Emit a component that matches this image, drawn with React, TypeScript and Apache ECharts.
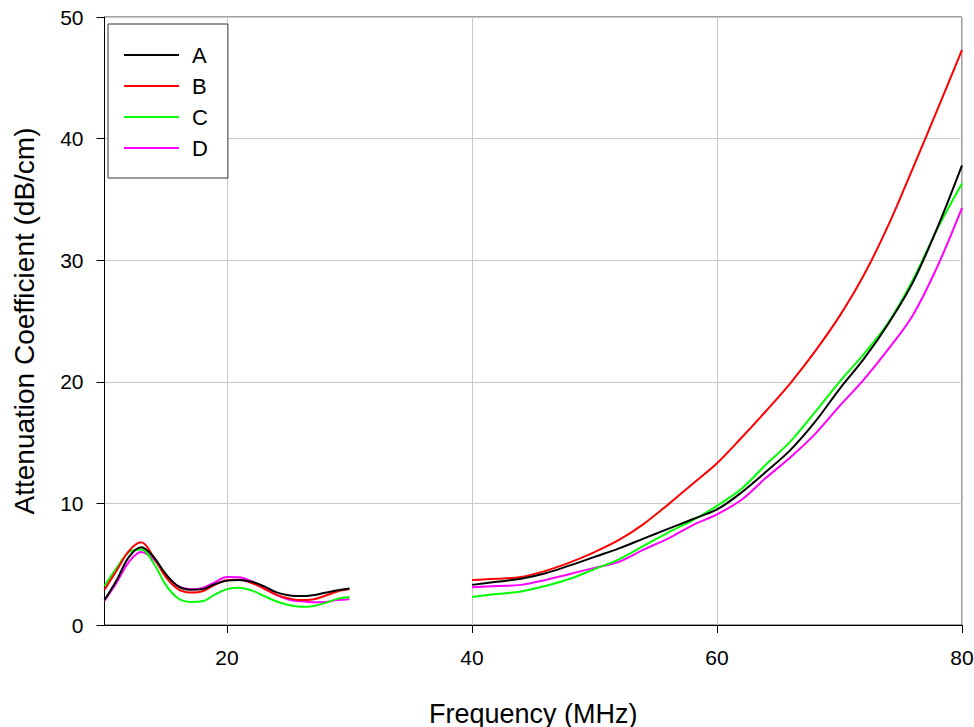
import React, { useEffect, useRef } from "react";
import * as echarts from "echarts";

// Frequency (MHz) sample points
const lowFreq = [10, 11, 12, 13, 14, 15, 16, 17, 18, 19, 20, 21, 22, 23, 24, 25, 26, 27, 28, 29, 30];
const highFreq = [40, 42, 44, 46, 48, 50, 52, 54, 56, 58, 60, 62, 64, 66, 68, 70, 72, 74, 76, 78, 80];

// Attenuation coefficient (dB/cm)
const aLow = [2.05, 3.7, 5.6, 6.4, 5.6, 4.2, 3.2, 2.9, 2.95, 3.35, 3.65, 3.7, 3.55, 3.2, 2.7, 2.45, 2.38, 2.45, 2.65, 2.85, 3.0];
const bLow = [2.9, 4.5, 6.1, 6.8, 5.6, 3.95, 2.95, 2.68, 2.78, 3.3, 3.68, 3.72, 3.45, 3.0, 2.5, 2.2, 2.05, 2.1, 2.4, 2.75, 2.95];
const cLow = [3.2, 4.7, 6.0, 6.2, 5.1, 3.3, 2.2, 1.9, 1.95, 2.5, 2.95, 3.07, 2.85, 2.4, 1.95, 1.65, 1.5, 1.55, 1.8, 2.15, 2.3];
const dLow = [2.0, 3.5, 5.2, 6.0, 5.4, 4.1, 3.2, 2.95, 3.05, 3.5, 3.95, 3.92, 3.6, 3.1, 2.5, 2.1, 1.95, 1.88, 1.9, 2.05, 2.12];

const aHigh = [3.3, 3.55, 3.8, 4.25, 4.9, 5.6, 6.3, 7.1, 7.9, 8.7, 9.5, 10.9, 12.6, 14.4, 16.7, 19.4, 21.9, 24.8, 28.2, 32.7, 37.8];
const bHigh = [3.7, 3.8, 3.95, 4.45, 5.15, 6.0, 7.0, 8.3, 9.9, 11.6, 13.3, 15.4, 17.6, 19.9, 22.5, 25.4, 28.8, 32.9, 37.6, 42.4, 47.3];
const cHigh = [2.3, 2.55, 2.75, 3.2, 3.8, 4.6, 5.4, 6.5, 7.6, 8.6, 9.8, 11.2, 13.2, 15.1, 17.5, 20.0, 22.3, 24.9, 28.4, 32.6, 36.3];
const dHigh = [3.1, 3.2, 3.3, 3.7, 4.2, 4.7, 5.2, 6.2, 7.1, 8.2, 9.1, 10.3, 12.1, 13.8, 15.7, 18.0, 20.2, 22.7, 25.5, 29.5, 34.3];

const seriesNames = ["A", "B", "C", "D"];
const seriesColors = ["#000000", "#ff0000", "#00ff00", "#ff00ff"];
const xTickValues = [20, 40, 60, 80];
const gapX = 35;

const FONT = "'Liberation Sans', Arial, sans-serif";

function buildData(low: number[], high: number[]) {
  const out: any[] = [];
  lowFreq.forEach((f, i) => out.push([f, low[i]]));
  out.push([gapX, "-"]);
  highFreq.forEach((f, i) => out.push([f, high[i]]));
  return out;
}

export default function App() {
  const ref = useRef<HTMLDivElement>(null);
  useEffect(() => {
    if (!ref.current) return;
    const chart = echarts.init(ref.current, undefined, { renderer: "svg" });
    const lows = [aLow, bLow, cLow, dLow];
    const highs = [aHigh, bHigh, cHigh, dHigh];
    chart.setOption({
      animation: false,
      backgroundColor: "#ffffff",
      grid: {
        left: 104.5,
        top: 17,
        width: 857.5,
        height: 608,
        outerBoundsMode: "none",
        containLabel: false,
        show: true,
        borderColor: "#444",
        borderWidth: 1,
        backgroundColor: "transparent",
      },
      legend: {
        orient: "vertical",
        left: 108,
        top: 24,
        padding: [20, 20, 19, 16],
        icon: "rect",
        itemWidth: 55,
        itemHeight: 2,
        itemGap: 9,
        borderColor: "#333",
        borderWidth: 1,
        backgroundColor: "#ffffff",
        textStyle: { fontSize: 22, lineHeight: 20, color: "#000", fontFamily: FONT, padding: [0, 0, 0, 8] },
        data: seriesNames,
      },
      xAxis: {
        type: "value",
        min: 10,
        max: 80,
        name: "Frequency (MHz)",
        nameLocation: "middle",
        nameGap: 75,
        nameTextStyle: { fontSize: 27, color: "#000", fontFamily: FONT },
        axisLine: { show: true, onZero: false, lineStyle: { color: "#000", width: 1 } },
        axisTick: { show: true, inside: false, length: 8, customValues: xTickValues, lineStyle: { color: "#000" } },
        axisLabel: { customValues: xTickValues, fontSize: 21, color: "#000", fontFamily: FONT, margin: 22 },
        splitLine: { show: true, lineStyle: { color: "#c8c8c8", width: 1 } },
      },
      yAxis: {
        type: "value",
        min: 0,
        max: 50,
        interval: 10,
        name: "Attenuation Coefficient (dB/cm)",
        nameLocation: "middle",
        nameGap: 66,
        nameTextStyle: { fontSize: 28, color: "#000", fontFamily: FONT },
        axisLine: { show: true, onZero: false, lineStyle: { color: "#000", width: 1 } },
        axisTick: { show: true, inside: false, length: 8, lineStyle: { color: "#000" } },
        axisLabel: { fontSize: 21, color: "#000", fontFamily: FONT, margin: 21 },
        splitLine: { show: true, lineStyle: { color: "#c8c8c8", width: 1 } },
      },
      series: seriesNames.map((name, i) => ({
        name,
        type: "line",
        data: buildData(lows[i], highs[i]),
        showSymbol: false,
        symbol: "none",
        smooth: 0.35,
        connectNulls: false,
        color: seriesColors[i],
        lineStyle: { color: seriesColors[i], width: 2 },
        z: 10 - i,
      })),
    });
    return () => chart.dispose();
  }, []);
  return (
    <div
      ref={ref}
      style={{ position: "fixed", left: 0, top: 0, width: 974, height: 727, background: "#fff" }}
    />
  );
}
